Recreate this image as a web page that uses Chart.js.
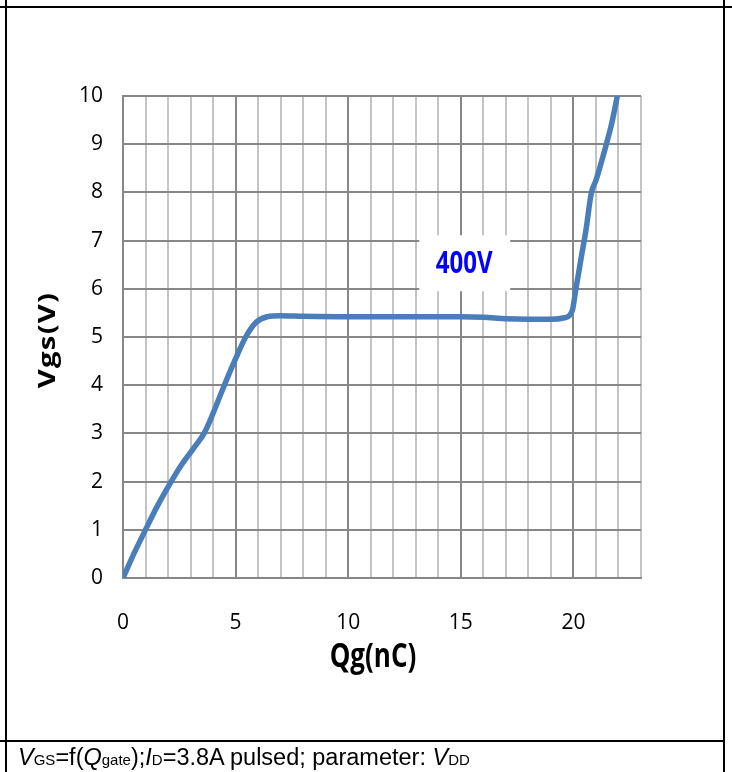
<!DOCTYPE html>
<html>
<head>
<meta charset="utf-8">
<script src="https://cdn.jsdelivr.net/npm/chart.js@4.4.0/dist/chart.umd.min.js"></script>
<style>
  html, body { margin: 0; padding: 0; background: #fff; }
  #wrap { position: relative; width: 732px; height: 772px; overflow: hidden; }
  #chart { position: absolute; left: 0; top: 0; }
  .rule { position: absolute; background: #000; }
  #note {
    position: absolute; left: 18px; top: 744px;
    font-family: "Liberation Sans", Arial, sans-serif; font-size: 23.5px; line-height: 27px;
    white-space: nowrap;
  }
  #note i { font-style: italic; }
  #note span { font-size: 15px; }
</style>
</head>
<body>
<div id="wrap">
  <canvas id="chart" width="732" height="772"></canvas>
  <div class="rule" style="left:0;top:6px;width:732px;height:2px"></div>
  <div class="rule" style="left:5px;top:0;width:2px;height:772px"></div>
  <div class="rule" style="left:723px;top:0;width:2px;height:772px"></div>
  <div class="rule" style="left:0;top:740px;width:725px;height:2px"></div>
  <div id="note"><i>V</i><span>GS</span>=f(<i>Q</i><span>gate</span>);<i>I</i><span>D</span>=3.8A pulsed; parameter: <i>V</i><span>DD</span></div>
</div>
<script>
  // gate charge curve, VDD = 400V
  const qg = [0, 0.5, 1.0, 1.5, 2.1, 2.6, 3.1, 3.6, 3.85, 4.5, 5.0, 5.45, 5.9, 6.4, 7, 8, 10, 12, 15, 16, 17, 18, 19, 19.6, 19.95, 20.1, 20.35, 20.55, 20.8, 21.0, 21.45, 21.7, 21.95];
  const vgs = [0, 0.52, 1.0, 1.47, 1.97, 2.35, 2.67, 3.0, 3.25, 4.0, 4.55, 5.0, 5.3, 5.42, 5.44, 5.43, 5.42, 5.42, 5.42, 5.41, 5.38, 5.37, 5.37, 5.4, 5.55, 5.97, 6.66, 7.2, 8.0, 8.25, 8.98, 9.43, 10.0];
  const xTicks = [0, 5, 10, 15, 20];
  const yTicks = [0, 1, 2, 3, 4, 5, 6, 7, 8, 9, 10];
  const seriesLabel = "400V";
  const labelAt = [15.15, 6.53];

  const dark = "#878787";
  const light = "#c4c4c4";

  const titles = {
    id: "titles",
    beforeDatasetsDraw(chart) {
      const { ctx, scales: { x, y } } = chart;
      const cx = x.getPixelForValue(labelAt[0]);
      const cy = y.getPixelForValue(labelAt[1]);
      ctx.save();
      ctx.fillStyle = "#fff";
      ctx.fillRect(cx - 45, cy - 28, 91, 56);
      ctx.translate(cx, cy);
      ctx.scale(1, 1.3);
      ctx.fillStyle = "#0000ff";
      ctx.font = "bold 24px 'Open Sans'";
      ctx.textAlign = "center";
      ctx.textBaseline = "middle";
      ctx.fillText(seriesLabel, 0, 1);
      ctx.restore();
    },
    afterDraw(chart) {
      const { ctx, chartArea } = chart;
      ctx.save();
      ctx.fillStyle = "#000";
      ctx.font = "bold 24px 'Open Sans'";
      ctx.textAlign = "center";
      ctx.textBaseline = "middle";
      ctx.letterSpacing = "1px";
      ctx.translate(48, (chartArea.top + chartArea.bottom) / 2 + 3);
      ctx.rotate(-Math.PI / 2);
      ctx.scale(1.22, 1);
      ctx.fillText("Vgs(V)", 0, 0);
      ctx.restore();

      ctx.save();
      ctx.fillStyle = "#000";
      ctx.font = "bold 26px 'Open Sans'";
      ctx.textAlign = "center";
      ctx.textBaseline = "middle";
      ctx.translate((chartArea.left + chartArea.right) / 2 - 9, 657);
      ctx.scale(1, 1.3);
      ctx.fillText("Qg(nC)", 0, 0);
      ctx.restore();
    }
  };

  new Chart(document.getElementById("chart"), {
    type: "line",
    data: {
      datasets: [
        {
          label: seriesLabel,
          data: qg.map((q, i) => ({ x: q, y: vgs[i] })),
          borderColor: "#4a7ebb",
          borderWidth: 5.5,
          pointRadius: 0,
          fill: false,
          cubicInterpolationMode: "monotone",
        },
      ],
    },
    options: {
      responsive: false,
      animation: false,
      layout: { padding: { top: 96, right: 91, left: 0, bottom: 0 } },
      plugins: { legend: { display: false }, tooltip: { enabled: false } },
      scales: {
        x: {
          type: "linear",
          min: 0,
          max: 23,
          afterFit: (s) => { s.height = 194; },
          ticks: {
            stepSize: 1,
            autoSkip: false,
            maxRotation: 0,
            padding: 32,
            color: "#000",
            font: { family: "'Liberation Sans Narrow', 'Open Sans'", size: 21 },
            callback: (v) => (xTicks.includes(v) ? String(v) : ""),
          },
          grid: {
            drawTicks: false,
            lineWidth: 2,
            color: (c) => (c.tick && c.tick.value % 5 === 0 && c.tick.value < 23 ? dark : light),
          },
          border: { color: dark, width: 2 },
        },
        y: {
          min: 0,
          max: 10,
          afterFit: (s) => { s.width = 123; },
          ticks: {
            stepSize: 1,
            padding: 20,
            color: "#000",
            font: { family: "'Liberation Sans Narrow', 'Open Sans'", size: 21 },
            callback: (v) => (yTicks.includes(v) ? String(v) : ""),
          },
          grid: { drawTicks: false, lineWidth: 2, color: dark },
          border: { color: dark, width: 2 },
        },
      },
    },
    plugins: [titles],
  });
</script>
</body>
</html>
